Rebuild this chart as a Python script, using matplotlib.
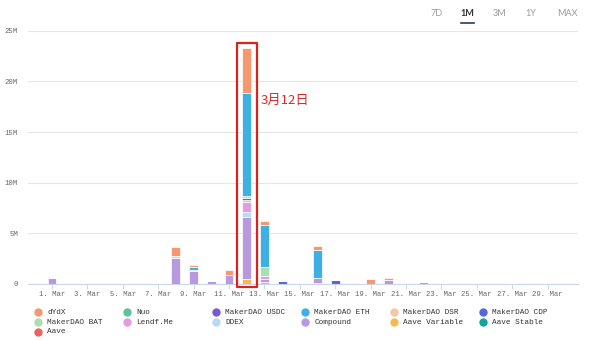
import matplotlib
matplotlib.use("Agg")
import matplotlib.pyplot as plt
from matplotlib.lines import Line2D
from matplotlib.patches import Rectangle
import numpy as np

# ---- data (millions USD per day, March) ----
days = [1, 2, 3, 4, 5, 6, 7, 8, 9, 10, 11, 12, 13, 14, 15,
        16, 17, 18, 19, 20, 21, 22, 23, 24, 25, 26, 27, 28, 29]

dydx          = [0, 0, 0, 0, 0, 0, 0, 0.85, 0.2, 0, 0.55, 4.45, 0.45, 0, 0, 0.4, 0, 0, 0.45, 0.2, 0, 0, 0, 0, 0, 0, 0, 0, 0]
nuo           = [0] * 29
maker_usdc    = [0, 0, 0, 0, 0, 0, 0, 0, 0, 0, 0, 0, 0, 0, 0, 0, 0.08, 0, 0, 0, 0, 0, 0, 0, 0, 0, 0, 0, 0]
maker_eth     = [0, 0, 0, 0, 0, 0, 0, 0, 0.3, 0, 0, 10.2, 4.1, 0, 0, 2.8, 0, 0, 0, 0, 0, 0, 0, 0, 0, 0, 0, 0, 0]
maker_dsr     = [0, 0, 0, 0, 0, 0, 0.1, 0, 0, 0, 0, 0.15, 0, 0, 0, 0, 0, 0, 0, 0, 0, 0, 0, 0, 0, 0, 0, 0, 0]
maker_cdp     = [0, 0, 0, 0, 0, 0, 0, 0, 0, 0, 0, 0.25, 0, 0.25, 0, 0, 0.35, 0, 0, 0, 0, 0, 0, 0, 0, 0, 0, 0, 0]
maker_bat     = [0, 0, 0, 0, 0, 0, 0, 0, 0, 0, 0, 0.15, 0.9, 0, 0, 0, 0, 0, 0, 0, 0, 0, 0, 0, 0, 0, 0, 0, 0]
lendf_me      = [0, 0, 0, 0, 0, 0, 0, 0, 0, 0, 0, 1.0, 0.3, 0, 0, 0, 0, 0, 0, 0, 0, 0, 0, 0, 0, 0, 0, 0, 0]
ddex          = [0, 0, 0, 0, 0, 0, 0, 0.25, 0.15, 0, 0, 0.5, 0, 0, 0, 0, 0, 0, 0, 0, 0, 0, 0, 0, 0, 0, 0, 0, 0]
compound      = [0.62, 0, 0, 0, 0, 0, 0, 2.55, 1.25, 0.28, 0.88, 6.12, 0.3, 0, 0, 0.45, 0, 0, 0, 0.35, 0, 0.15, 0, 0, 0, 0, 0.07, 0, 0]
aave_variable = [0, 0, 0, 0, 0, 0, 0, 0, 0, 0, 0, 0.48, 0.2, 0, 0, 0.1, 0, 0, 0, 0, 0, 0, 0, 0, 0, 0, 0, 0, 0]
aave_stable   = [0] * 29
aave          = [0] * 29

series_names = ["dYdX", "Nuo", "MakerDAO USDC", "MakerDAO ETH", "MakerDAO DSR",
                "MakerDAO CDP", "MakerDAO BAT", "Lendf.Me", "DDEX", "Compound",
                "Aave Variable", "Aave Stable", "Aave"]
series_values = [dydx, nuo, maker_usdc, maker_eth, maker_dsr, maker_cdp, maker_bat,
                 lendf_me, ddex, compound, aave_variable, aave_stable, aave]
series_colors = ["#f7976f", "#5cc495", "#7b57d1", "#3fb0e4", "#f8c6a4",
                 "#5568d6", "#a8dfb5", "#e09de0", "#b5dcf7", "#b899e0",
                 "#f8b94c", "#16a39a", "#ef6161"]

y_ticks = [0, 5, 10, 15, 20, 25]
y_tick_labels = ["0", "5M", "10M", "15M", "20M", "25M"]
x_tick_days = [1, 3, 5, 7, 9, 11, 13, 15, 17, 19, 21, 23, 25, 27, 29]
x_tick_labels = [f"{d}. Mar" for d in x_tick_days]
range_buttons = ["7D", "1M", "3M", "1Y", "MAX"]
highlight_day = 12
highlight_label = "3月12日"

# ---- figure ----
W, H = 600, 341
fig = plt.figure(figsize=(W / 100, H / 100), dpi=100)


def fx(px):
    return px / W


def fy(py):
    return 1 - py / H


ax = fig.add_axes([fx(28), fy(284), (578 - 28) / W, (284 - 30.7) / H])

mono = "Liberation Mono"
x = np.array(days, dtype=float)
bottom = np.zeros(len(days))
# first series sits on top of the stack: draw from the last one upwards
for name, vals, col in reversed(list(zip(series_names, series_values, series_colors))):
    v = np.array(vals, dtype=float)
    ax.bar(x, v, width=0.5, bottom=bottom, color=col, edgecolor="white",
           linewidth=0.5, zorder=3)
    bottom += v

ax.set_xlim(1 - 1.356, 1 + 29.72)
ax.set_ylim(0, 25)

ax.set_yticks(y_ticks)
ax.set_yticklabels(y_tick_labels, family=mono, fontsize=5.2, color="#666666")
ax.tick_params(axis="y", length=0, pad=7.2)
ax.yaxis.grid(True, color="#e6e6e6", linewidth=0.8)
ax.set_axisbelow(True)

ax.set_xticks(x_tick_days)
ax.set_xticklabels(x_tick_labels, family=mono, fontsize=5.2, color="#666666")
ax.tick_params(axis="x", length=3.6, width=0.7, color="#ccd6eb", pad=1.8)

for s in ("top", "right", "left"):
    ax.spines[s].set_visible(False)
ax.spines["bottom"].set_color("#ccd6eb")
ax.spines["bottom"].set_linewidth(0.8)

# highlight box around the peak day
hx = highlight_day
ax.add_patch(Rectangle((hx - 0.565, -0.3), 1.13, 24.1, fill=False,
                       edgecolor="#e0201b", linewidth=1.6, clip_on=False, zorder=5,
                       joinstyle="round"))
ax.text(hx + 0.78, 18.1, highlight_label, color="#d42a2a", fontsize=9.5,
        family=["Noto Sans CJK SC", "DejaVu Sans"], va="center", ha="left", zorder=6)

# range selector
btn_x = [437, 467, 500, 531, 567]
for lbl, bx in zip(range_buttons, btn_x):
    active = lbl == "1M"
    fig.text(fx(bx), fy(14), lbl, family="Lato", fontsize=6.5,
             color="#333333" if active else "#9a9a9a",
             fontweight="bold" if active else "normal", ha="center", va="center")
fig.add_artist(Line2D([fx(460.5), fx(473.5)], [fy(23.3), fy(23.3)],
                      color="#2f3a56", linewidth=1.2, transform=fig.transFigure))

# legend
col_x = [37.7, 126.7, 215.7, 304.7, 393.7, 482.7]
row_y = [312.3, 322.3, 331.7]
for i, (name, col) in enumerate(zip(series_names, series_colors)):
    cx = col_x[i % 6]
    cy = row_y[i // 6]
    fig.add_artist(Line2D([fx(cx)], [fy(cy)], marker="o", markersize=5,
                          markerfacecolor=col, markeredgecolor=col, linestyle="none",
                          transform=fig.transFigure))
    fig.text(fx(cx + 9.5), fy(cy), name, family=mono, fontsize=5.6,
             color="#333333", ha="left", va="center")

fig.savefig("out.png", dpi=100, facecolor="white")
